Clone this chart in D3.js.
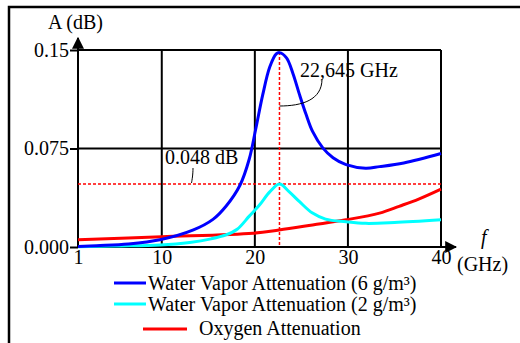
<!DOCTYPE html>
<html>
<head>
<meta charset="utf-8">
<script src="https://cdn.jsdelivr.net/npm/d3@7"></script>
<style>
  body { margin: 0; background: #fff; }
  svg { display: block; font-family: "Liberation Serif", "Times New Roman", serif; }
</style>
</head>
<body>
<script>
// values
const vapor6Freq = [1, 3, 6.4, 9.8, 13.4, 15.5, 16.9, 18.4, 19.4, 20.1, 20.85, 21.6, 22.3, 22.645, 23.4, 24.1, 24.8, 25.5, 26.2, 27.3, 28.4, 29.8, 31.9, 33.4, 36, 40];
const vapor6Atten = [0.0003, 0.001, 0.0023, 0.0055, 0.013, 0.021, 0.031, 0.047, 0.067, 0.09, 0.116, 0.137, 0.147, 0.148, 0.144, 0.132, 0.116, 0.101, 0.088, 0.0755, 0.068, 0.0627, 0.060, 0.0612, 0.064, 0.0712];

const vapor2Freq = [1, 5, 9.8, 13, 15.3, 16.9, 18.1, 19.4, 20.5, 21.6, 22.645, 23.7, 24.8, 26.2, 27.6, 29.8, 31.9, 35, 40];
const vapor2Atten = [0.0002, 0.0008, 0.0016, 0.0035, 0.0062, 0.0092, 0.0135, 0.0235, 0.032, 0.042, 0.048, 0.042, 0.0345, 0.0258, 0.0212, 0.0192, 0.018, 0.0186, 0.0207];

const oxygenFreq = [1, 10, 19.8, 22.6, 26.2, 29.8, 33.4, 35.5, 37.6, 40];
const oxygenAtten = [0.0056, 0.0078, 0.0105, 0.013, 0.0168, 0.0207, 0.0258, 0.031, 0.0365, 0.0441];

const xTicks = [1, 10, 20, 30, 40];
const yTicks = [0, 0.075, 0.15];
const yTickLabels = ['0.000', '0.075', '0.15'];

const seriesNames = ['Water Vapor Attenuation (6 g/m³)', 'Water Vapor Attenuation (2 g/m³)', 'Oxygen Attenuation'];
const seriesColours = ['#0000ff', '#00ffff', '#ff0000'];

const peakFreq = 22.645;
const peakAtten = 0.048;

const width = 520, height = 343;
const svg = d3.select('body').append('svg')
    .attr('width', width)
    .attr('height', height);

// frame (top + left edge)
svg.append('path')
    .attr('d', 'M9,343 V7 H520')
    .attr('fill', 'none')
    .attr('stroke', '#000')
    .attr('stroke-width', 2.5);

const x = d3.scaleLinear().domain([1, 40]).range([78, 441]);
const y = d3.scaleLinear().domain([0, 0.15]).range([247, 50]);

// grid
const grid = svg.append('g').attr('stroke', '#000').attr('stroke-width', 2);
grid.selectAll('.vg')
    .data(xTicks.slice(1))
    .enter().append('line')
    .attr('x1', d => x(d)).attr('x2', d => x(d))
    .attr('y1', y(0.15)).attr('y2', y(0));
grid.selectAll('.hg')
    .data(yTicks.slice(1))
    .enter().append('line')
    .attr('x1', x(1)).attr('x2', x(40))
    .attr('y1', d => y(d)).attr('y2', d => y(d));

// axes with arrows
svg.append('defs').append('marker')
    .attr('id', 'arrow')
    .attr('viewBox', '0 0 10 10')
    .attr('refX', 9).attr('refY', 5)
    .attr('markerWidth', 6).attr('markerHeight', 6)
    .attr('markerUnits', 'strokeWidth')
    .attr('orient', 'auto')
    .append('path')
    .attr('d', 'M0,0 L10,5 L0,10 z')
    .attr('fill', '#000');

svg.append('line')
    .attr('x1', x(1)).attr('x2', x(1))
    .attr('y1', y(0)).attr('y2', 38)
    .attr('stroke', '#000').attr('stroke-width', 2)
    .attr('marker-end', 'url(#arrow)');
svg.append('line')
    .attr('x1', x(1)).attr('x2', 456)
    .attr('y1', y(0)).attr('y2', y(0))
    .attr('stroke', '#000').attr('stroke-width', 2)
    .attr('marker-end', 'url(#arrow)');

const yAxis = svg.append('g')
    .attr('transform', `translate(${x(1)},0)`)
    .call(d3.axisLeft(y).tickValues(yTicks).tickSize(8).tickPadding(1)
        .tickFormat((d, i) => yTickLabels[i]));
yAxis.attr('font-family', null).attr('font-size', null);
yAxis.select('.domain').remove();
yAxis.selectAll('line').attr('stroke-width', 2);
yAxis.selectAll('text')
    .attr('font-size', 20)
    .attr('fill', '#000');

const xAxis = svg.append('g')
    .attr('transform', `translate(0,${y(0)})`)
    .call(d3.axisBottom(x).tickValues(xTicks).tickSize(0).tickPadding(3)
        .tickFormat(d3.format('d')));
xAxis.attr('font-family', null).attr('font-size', null);
xAxis.select('.domain').remove();
xAxis.selectAll('text')
    .attr('font-size', 20)
    .attr('fill', '#000');

// axis titles
svg.append('text').attr('x', 48).attr('y', 29).attr('font-size', 20).text('A (dB)');
svg.append('text').attr('x', 481).attr('y', 244).attr('font-size', 20).attr('font-style', 'italic').text('f');
svg.append('text').attr('x', 457).attr('y', 271).attr('font-size', 20).text('(GHz)');

// reference dashed lines
const dash = svg.append('g')
    .attr('stroke', '#ff0000').attr('stroke-width', 1.5).attr('stroke-dasharray', '3,2');
dash.append('line')
    .attr('x1', x(1)).attr('x2', x(40))
    .attr('y1', y(peakAtten)).attr('y2', y(peakAtten));
dash.append('line')
    .attr('x1', x(peakFreq)).attr('x2', x(peakFreq))
    .attr('y1', y(0.15) + 2).attr('y2', y(0));

// curves
const series = [
    vapor6Freq.map((f, i) => [f, vapor6Atten[i]]),
    vapor2Freq.map((f, i) => [f, vapor2Atten[i]]),
    oxygenFreq.map((f, i) => [f, oxygenAtten[i]])
];
const line = d3.line()
    .x(d => x(d[0]))
    .y(d => y(d[1]))
    .curve(d3.curveCatmullRom.alpha(0.5));

// draw order: oxygen, cyan, blue on top
[2, 1, 0].forEach(i => {
    svg.append('path')
        .attr('d', line(series[i]))
        .attr('fill', 'none')
        .attr('stroke', seriesColours[i])
        .attr('stroke-width', 3);
});

// annotations
svg.append('text').attr('x', 300).attr('y', 77).attr('font-size', 20).text('22,645 GHz');
svg.append('path')
    .attr('d', `M322,79 C322,100 302,106 ${x(peakFreq)},106`)
    .attr('fill', 'none').attr('stroke', '#000').attr('stroke-width', 1);

svg.append('text').attr('x', 165).attr('y', 164).attr('font-size', 20).text('0.048 dB');
svg.append('path')
    .attr('d', `M193,168 C193,175 192,180 191.5,${y(peakAtten) - 1}`)
    .attr('fill', 'none').attr('stroke', '#000').attr('stroke-width', 1);

// legend
const legendRows = [
    {x1: 114, x2: 146, tx: 148, ly: 283, ty: 290},
    {x1: 114, x2: 146, tx: 148, ly: 304, ty: 311},
    {x1: 143, x2: 187, tx: 199, ly: 329, ty: 335}
];
legendRows.forEach((r, i) => {
    svg.append('line')
        .attr('x1', r.x1).attr('x2', r.x2)
        .attr('y1', r.ly).attr('y2', r.ly)
        .attr('stroke', seriesColours[i]).attr('stroke-width', 3);
    svg.append('text')
        .attr('x', r.tx).attr('y', r.ty)
        .attr('font-size', 20)
        .text(seriesNames[i]);
});
</script>
</body>
</html>
